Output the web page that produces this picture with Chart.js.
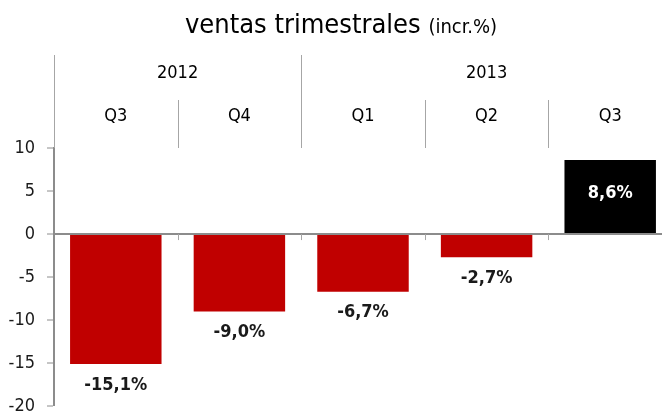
<!DOCTYPE html>
<html lang="es">
<head>
  <meta charset="UTF-8" />
  <title>ventas trimestrales</title>
  <script src="https://cdn.jsdelivr.net/npm/chart.js"></script>
  <style>
    html, body {
      margin: 0;
      padding: 0;
      background: #fff;
      overflow: hidden;
    }
    #wrap {
      width: 672px;
      height: 429px;
    }
  </style>
</head>
<body>
  <div id="wrap"><canvas id="chart"></canvas></div>

  <script>
    // data
    const quarters = ['Q3', 'Q4', 'Q1', 'Q2', 'Q3'];
    const years = ['2012', '2012', '2013', '2013', '2013'];
    const values = [-15.1, -9.0, -6.7, -2.7, 8.6];
    const yTicks = [10, 5, 0, -5, -10, -15, -20];

    const RED = '#c00000';
    const GRAY = '#8c8c8c';
    const LINE = '#a6a6a6';
    const FONT = '"DejaVu Sans Condensed", "DejaVu Sans", sans-serif';

    const fmt = v => v.toFixed(1).replace('.', ',') + '%';

    // title + year/quarter header above the plot
    const headerPlugin = {
      id: 'header',
      afterDraw(chart) {
        const ctx = chart.ctx;
        const x = chart.scales.x;
        const area = chart.chartArea;
        const n = quarters.length;
        const bound = i => i === 0 ? area.left : (x.getPixelForValue(i - 1) + x.getPixelForValue(i)) / 2;
        const zeroY = chart.scales.y.getPixelForValue(0);

        ctx.save();
        // title
        ctx.fillStyle = '#000';
        ctx.textBaseline = 'alphabetic';
        ctx.textAlign = 'left';
        const t1 = 'ventas trimestrales ';
        const t2 = '(incr.%)';
        ctx.font = '27px ' + FONT;
        const w1 = ctx.measureText(t1).width;
        ctx.font = '20px ' + FONT;
        const w2 = ctx.measureText(t2).width;
        let sx = 341 - (w1 + w2) / 2;
        ctx.font = '27px ' + FONT;
        ctx.fillText(t1, sx, 33);
        ctx.font = '20px ' + FONT;
        ctx.fillText(t2, sx + w1, 33);

        // header lines
        ctx.strokeStyle = LINE;
        ctx.lineWidth = 1;
        ctx.beginPath();
        for (let i = 0; i < n; i++) {
          const bx = Math.round(bound(i)) + 0.5;
          const newYear = i === 0 || years[i] !== years[i - 1];
          ctx.moveTo(bx, newYear ? 55 : 100);
          ctx.lineTo(bx, area.top);
          if (i > 0) {
            ctx.moveTo(bx, zeroY);
            ctx.lineTo(bx, zeroY + 6);
          }
        }
        ctx.stroke();

        // labels
        ctx.textAlign = 'center';
        ctx.font = '18px ' + FONT;
        quarters.forEach((q, i) => {
          ctx.fillText(q, x.getPixelForValue(i), 121);
        });
        const seen = [];
        years.forEach(y => { if (!seen.includes(y)) seen.push(y); });
        seen.forEach(y => {
          const idx = years.map((v, i) => v === y ? i : -1).filter(i => i >= 0);
          const cx = (x.getPixelForValue(idx[0]) + x.getPixelForValue(idx[idx.length - 1])) / 2;
          ctx.fillText(y, cx, 78);
        });
        ctx.restore();
      }
    };

    // value labels under / inside the bars
    const valueLabels = {
      id: 'valueLabels',
      afterDatasetsDraw(chart) {
        const ctx = chart.ctx;
        const meta = chart.getDatasetMeta(0);
        ctx.save();
        ctx.font = 'bold 18px ' + FONT;
        ctx.textAlign = 'center';
        ctx.textBaseline = 'middle';
        meta.data.forEach((bar, i) => {
          const v = values[i];
          if (v < 0) {
            ctx.fillStyle = '#1a1a1a';
            ctx.fillText(fmt(v), bar.x, bar.y + 21);
          } else {
            ctx.fillStyle = '#fff';
            ctx.fillText(fmt(v), bar.x, (bar.y + bar.base) / 2 - 3);
          }
        });
        ctx.restore();
      }
    };

    new Chart(document.getElementById('chart'), {
      type: 'bar',
      data: {
        labels: quarters,
        datasets: [{
          data: values,
          backgroundColor: values.map(v => v < 0 ? RED : '#000'),
          borderWidth: 0,
          barPercentage: 0.74,
          categoryPercentage: 1
        }]
      },
      options: {
        responsive: true,
        maintainAspectRatio: false,
        animation: false,
        layout: { padding: { top: 148, bottom: 11, left: 0, right: 0 } },
        plugins: {
          legend: { display: false },
          tooltip: { enabled: false }
        },
        scales: {
          x: { display: false },
          y: {
            min: yTicks[yTicks.length - 1],
            max: yTicks[0],
            afterFit(scale) { scale.width = 54; },
            afterBuildTicks(scale) { scale.ticks = yTicks.map(v => ({ value: v })); },
            border: { display: true, color: GRAY, width: 2 },
            grid: {
              drawOnChartArea: true,
              drawTicks: true,
              tickLength: 7,
              tickColor: GRAY,
              tickWidth: 1,
              lineWidth: c => c.tick && c.tick.value === 0 ? 2 : 0,
              color: c => c.tick && c.tick.value === 0 ? GRAY : 'rgba(0,0,0,0)'
            },
            ticks: {
              padding: 12,
              color: '#1a1a1a',
              font: { family: FONT, size: 18 }
            }
          }
        }
      },
      plugins: [headerPlugin, valueLabels]
    });
  </script>
</body>
</html>
